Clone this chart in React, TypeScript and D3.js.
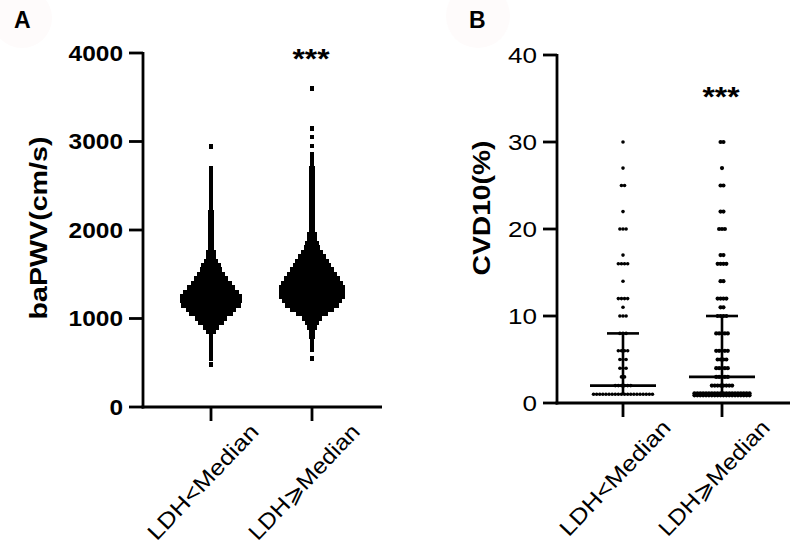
import React from "react";
import * as d3 from "d3";

const groups = ["LDH<Median", "LDH⩾Median"];

// Panel A: baPWV beeswarm rows (value level, dots per row)
const pwvLowLevels = [480, 550, 600, 650, 700, 750, 800, 850, 900, 950, 1000, 1050, 1100, 1150, 1200, 1250, 1300, 1350, 1400, 1450, 1500, 1550, 1600, 1650, 1700, 1750, 1800, 1850, 1900, 1950, 2000, 2050, 2100, 2150, 2200, 2250, 2300, 2350, 2400, 2450, 2500, 2550, 2600, 2650, 2700, 2940];
const pwvLowCounts = [1, 1, 1, 1, 1, 1, 1, 3, 5, 8, 10, 14, 16, 19, 20, 20, 18, 15, 13, 11, 9, 7, 6, 4, 3, 3, 2, 2, 2, 2, 2, 2, 2, 2, 2, 1, 1, 1, 1, 1, 1, 1, 1, 1, 1, 1];
const pwvHighLevels = [545, 650, 700, 750, 800, 850, 900, 950, 1000, 1050, 1100, 1150, 1200, 1250, 1300, 1350, 1400, 1450, 1500, 1550, 1600, 1650, 1700, 1750, 1800, 1850, 1900, 1950, 2000, 2050, 2100, 2150, 2200, 2250, 2300, 2350, 2400, 2450, 2500, 2550, 2600, 2650, 2700, 2750, 2800, 2850, 2950, 3050, 3150, 3600];
const pwvHighCounts = [1, 1, 1, 1, 2, 2, 3, 4, 6, 10, 14, 17, 19, 21, 21, 21, 20, 18, 16, 14, 12, 11, 9, 7, 5, 4, 3, 3, 2, 2, 2, 2, 2, 2, 2, 2, 2, 2, 2, 2, 2, 2, 2, 1, 1, 1, 1, 1, 1, 1];
const pwvTicks = [0, 1000, 2000, 3000, 4000];

// Panel B: CVD10 discrete values, dots per value
const cvdLevels = [1, 2, 3, 4, 5, 6, 8, 10, 11, 12, 14, 16, 17, 20, 22, 25, 27, 30];
const cvdLowCounts = [20, 6, 2, 3, 3, 4, 3, 3, 1, 4, 1, 4, 1, 3, 1, 2, 1, 1];
const cvdHighCounts = [40, 8, 5, 5, 4, 5, 5, 4, 2, 4, 2, 4, 2, 3, 2, 2, 1, 2];
const cvdTicks = [0, 10, 20, 30, 40];
const cvdCenter = [2, 3];
const cvdUpper = [8, 10];
const cvdLower = [1, 1];

const FONT = "'Liberation Sans', Arial, Helvetica, sans-serif";

type Dot = { x: number; y: number };

function rowDots(cx: number, cy: number, n: number, spacing: number, rowMax: number, rowGap: number): Dot[] {
  const out: Dot[] = [];
  const rows = Math.ceil(n / rowMax);
  let remaining = n;
  for (let k = 0; k < rows; k++) {
    const m = Math.min(rowMax, remaining);
    remaining -= m;
    const yy = cy + (k - (rows - 1) / 2) * rowGap;
    for (let i = 0; i < m; i++) {
      out.push({ x: cx + (i - (m - 1) / 2) * spacing, y: yy });
    }
  }
  return out;
}

export default function App() {
  const yA = d3.scaleLinear().domain([0, 4000]).range([407, 53]);
  const xA = d3.scalePoint<string>().domain(groups).range([211, 312]);
  const axA = { x0: 143, x1: 382, y0: 407 };

  const yB = d3.scaleLinear().domain([0, 40]).range([403, 55]);
  const xB = d3.scalePoint<string>().domain(groups).range([623, 722]);
  const axB = { x0: 557, x1: 790, y0: 403 };

  const dotsA: Dot[] = [];
  pwvLowLevels.forEach((v, i) => dotsA.push(...rowDots(xA(groups[0])!, yA(v), pwvLowCounts[i], 3.1, 30, 0)));
  pwvHighLevels.forEach((v, i) => dotsA.push(...rowDots(xA(groups[1])!, yA(v), pwvHighCounts[i], 3.1, 30, 0)));

  const dotsBLow: Dot[] = [];
  const dotsBHigh: Dot[] = [];
  cvdLevels.forEach((v, i) => dotsBLow.push(...rowDots(xB(groups[0])!, yB(v), cvdLowCounts[i], 3.1, 20, 2)));
  cvdLevels.forEach((v, i) => dotsBHigh.push(...rowDots(xB(groups[1])!, yB(v), cvdHighCounts[i], 2.9, 20, 2)));

  const sw = 2.8;
  const labelAngle = -46.5;

  const xLabels = (xs: d3.ScalePoint<string>, y0: number) =>
    groups.map((g) => {
      const cx = xs(g)! - 8;
      const cy = y0 + 75;
      return (
        <text
          key={g}
          x={cx}
          y={cy}
          transform={`rotate(${labelAngle},${cx},${cy})`}
          textAnchor="middle"
          dominantBaseline="central"
          fontSize={22}
          fontFamily={FONT}
          textLength={150}
          lengthAdjust="spacingAndGlyphs"
          fill="#000"
        >
          {g}
        </text>
      );
    });

  return (
    <svg
      width={800}
      height={551}
      style={{ position: "absolute", left: 0, top: 0, background: "#fff" }}
    >
      <rect x={0} y={0} width={800} height={551} fill="#fff" />
      <circle cx={22} cy={18} r={30} fill="#fefbfb" />
      <circle cx={478} cy={16} r={32} fill="#fefbfb" />

      <text x={14} y={28} fontSize={23} fontWeight="bold" fontFamily={FONT}>A</text>
      <text x={469} y={28} fontSize={23} fontWeight="bold" fontFamily={FONT}>B</text>

      {/* ===== Panel A ===== */}
      <g shapeRendering="crispEdges">
        {dotsA.map((d, i) => (
          <rect key={i} x={d.x - 1.9} y={d.y - 2.4} width={3.8} height={4.8} fill="#000" />
        ))}
      </g>
      <g>
        <line x1={axA.x0} x2={axA.x0} y1={yA(4000) - 1} y2={axA.y0 + sw / 2} stroke="#000" strokeWidth={sw} />
        <line x1={axA.x0 - sw / 2} x2={axA.x1} y1={axA.y0} y2={axA.y0} stroke="#000" strokeWidth={sw} />
        {pwvTicks.map((t) => (
          <g key={t}>
            <line x1={axA.x0 - 14} x2={axA.x0} y1={yA(t)} y2={yA(t)} stroke="#000" strokeWidth={sw} />
            <text
              x={axA.x0 - 20}
              y={yA(t)}
              dy="0.36em"
              textAnchor="end"
              fontSize={22}
              fontWeight="bold"
              fontFamily={FONT}
              textLength={13.6 * String(t).length}
              lengthAdjust="spacingAndGlyphs"
            >
              {t}
            </text>
          </g>
        ))}
        {groups.map((g) => (
          <line key={g} x1={xA(g)} x2={xA(g)} y1={axA.y0} y2={axA.y0 + 14} stroke="#000" strokeWidth={sw} />
        ))}
        {xLabels(xA, axA.y0)}
        <text
          x={38}
          y={228}
          transform={`rotate(-90,38,228)`}
          textAnchor="middle"
          dominantBaseline="central"
          fontSize={24}
          fontWeight="bold"
          fontFamily={FONT}
          textLength={183}
          lengthAdjust="spacingAndGlyphs"
        >
          baPWV(cm/s)
        </text>
        <text x={xA(groups[1])! - 1} y={68} textAnchor="middle" fontSize={28} fontWeight="bold" fontFamily={FONT} textLength={37} lengthAdjust="spacingAndGlyphs">***</text>
      </g>

      {/* ===== Panel B ===== */}
      <g>
        {dotsBLow.map((d, i) => (
          <circle key={"l" + i} cx={d.x} cy={d.y} r={1.8} fill="#000" />
        ))}
        {dotsBHigh.map((d, i) => (
          <circle key={"h" + i} cx={d.x} cy={d.y} r={2.1} fill="#000" />
        ))}
        {groups.map((g, i) => {
          const cx = xB(g)!;
          return (
            <g key={g}>
              <line x1={cx} x2={cx} y1={yB(cvdLower[i])} y2={yB(cvdUpper[i])} stroke="#000" strokeWidth={2.6} />
              <line x1={cx - 33} x2={cx + 33} y1={yB(cvdCenter[i])} y2={yB(cvdCenter[i])} stroke="#000" strokeWidth={2.6} />
              <line x1={cx - 16} x2={cx + 16} y1={yB(cvdUpper[i])} y2={yB(cvdUpper[i])} stroke="#000" strokeWidth={2.6} />
            </g>
          );
        })}
        <line x1={axB.x0} x2={axB.x0} y1={yB(40) - 1} y2={axB.y0 + sw / 2} stroke="#000" strokeWidth={sw} />
        <line x1={axB.x0 - sw / 2} x2={axB.x1} y1={axB.y0} y2={axB.y0} stroke="#000" strokeWidth={sw} />
        {cvdTicks.map((t) => (
          <g key={t}>
            <line x1={axB.x0 - 14} x2={axB.x0} y1={yB(t)} y2={yB(t)} stroke="#000" strokeWidth={sw} />
            <text
              x={axB.x0 - 20}
              y={yB(t)}
              dy="0.36em"
              textAnchor="end"
              fontSize={22}
              fontFamily={FONT}
              textLength={14.5 * String(t).length}
              lengthAdjust="spacingAndGlyphs"
            >
              {t}
            </text>
          </g>
        ))}
        {groups.map((g) => (
          <line key={g} x1={xB(g)} x2={xB(g)} y1={axB.y0} y2={axB.y0 + 14} stroke="#000" strokeWidth={sw} />
        ))}
        {xLabels(xB, axB.y0)}
        <text
          x={481}
          y={208}
          transform={`rotate(-90,481,208)`}
          textAnchor="middle"
          dominantBaseline="central"
          fontSize={24}
          fontWeight="bold"
          fontFamily={FONT}
          textLength={135}
          lengthAdjust="spacingAndGlyphs"
        >
          CVD10(%)
        </text>
        <text x={xB(groups[1])! - 1} y={106} textAnchor="middle" fontSize={28} fontWeight="bold" fontFamily={FONT} textLength={37} lengthAdjust="spacingAndGlyphs">***</text>
      </g>
    </svg>
  );
}
